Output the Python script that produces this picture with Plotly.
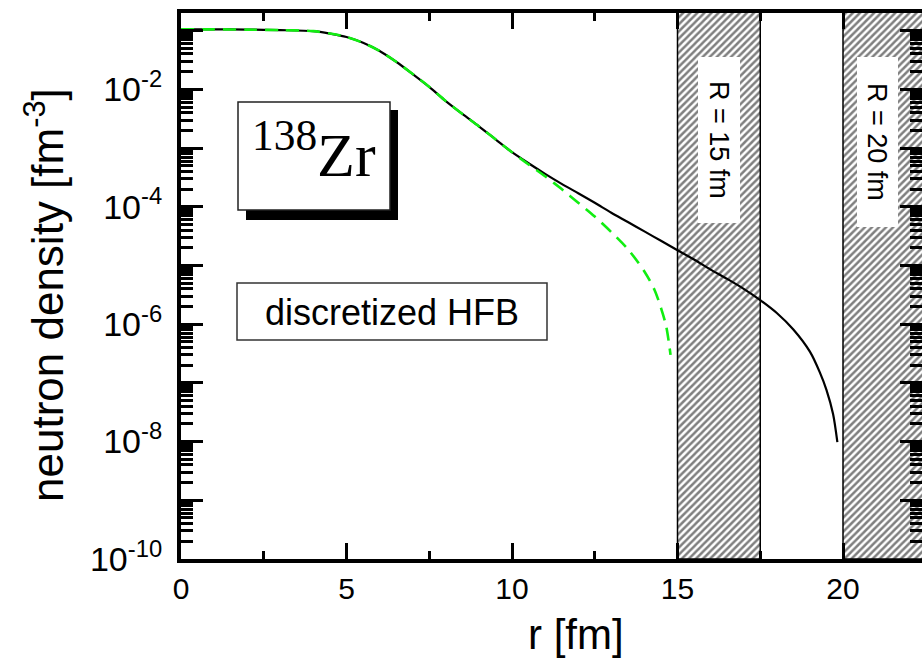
import plotly.graph_objects as go

# ---------------- data ----------------
r_hfb = [0, 1, 2, 3, 4, 4.5, 5, 5.5, 6, 6.5, 7, 7.5, 8, 8.5, 9, 9.5, 10,
         10.5, 11, 11.5, 12, 12.5, 13, 13.5, 14, 14.5, 15,
         15.5, 16, 16.5, 17, 17.5, 18, 18.5, 19, 19.3, 19.5, 19.7, 19.83]
rho_hfb = [1.05e-1, 1.05e-1, 1.04e-1, 1.02e-1, 9.8e-2, 8.9e-2, 7.8e-2, 6.2e-2,
           4.5e-2, 2.95e-2, 1.82e-2, 1.10e-2, 6.3e-3, 3.8e-3, 2.34e-3, 1.41e-3,
           8.5e-4, 5.5e-4, 3.63e-4, 2.45e-4, 1.70e-4, 1.17e-4, 7.9e-5, 5.5e-5,
           3.8e-5, 2.63e-5, 1.82e-5, 1.26e-5, 8.5e-6, 5.9e-6, 4.0e-6, 2.57e-6,
           1.55e-6, 8.1e-7, 3.4e-7, 1.51e-7, 7.6e-8, 2.95e-8, 9.8e-9]

r_box = [0, 1, 2, 3, 4, 4.5, 5, 5.5, 6, 6.5, 7, 7.5, 8, 8.5, 9, 9.5, 10,
         10.5, 11, 11.5, 12, 12.5, 13, 13.5, 14, 14.3, 14.5, 14.66, 14.79]
rho_box = [1.05e-1, 1.05e-1, 1.04e-1, 1.02e-1, 9.8e-2, 8.9e-2, 7.8e-2, 6.2e-2,
           4.5e-2, 2.95e-2, 1.82e-2, 1.10e-2, 6.3e-3, 3.8e-3, 2.34e-3, 1.41e-3,
           8.5e-4, 5.25e-4, 3.31e-4, 2.0e-4, 1.17e-4, 6.8e-5, 3.7e-5, 1.9e-5,
           7.9e-6, 3.9e-6, 1.9e-6, 9.1e-7, 3.0e-7]

box_radii = [15, 20]          # box radii R [fm]
wall_width = [2.5, 3.0]       # width of hatched region drawn
box_labels = ["R = 15 fm", "R = 20 fm"]

y_exponents = [-10, -9, -8, -7, -6, -5, -4, -3, -2, -1]
x_ticks = [0, 5, 10, 15, 20]

# ---------------- geometry helpers (layout only) ----------------
W, H = 922, 662
L, R_, T, B = 181, 0, 13, 103
PW, PH = W - L - R_, H - T - B


def px(xp):
    return (xp - L) / PW


def py(yp):
    return (H - B - yp) / PH


FONT = "Liberation Sans, Arial, sans-serif"
Y_TOP = -0.7
X_MAX = PW / 33.1

fig = go.Figure()

# hatched regions
for R, w in zip(box_radii, wall_width):
    fig.add_trace(go.Scatter(
        x=[R, R + w, R + w, R, R],
        y=[1e-10, 1e-10, 1.0, 1.0, 1e-10],
        mode="lines", fill="toself",
        fillcolor="white",
        fillpattern=dict(shape="/", size=5, solidity=0.5,
                         fgcolor="black", bgcolor="white"),
        line=dict(color="black", width=1.5),
        hoverinfo="skip", showlegend=False))

fig.add_trace(go.Scatter(x=r_hfb, y=rho_hfb, mode="lines",
                         line=dict(color="black", width=2.2, shape="spline",
                                   smoothing=0.8),
                         showlegend=False))
fig.add_trace(go.Scatter(x=r_box, y=rho_box, mode="lines",
                         line=dict(color="#11ee11", width=2.6, dash="13px,8px",
                                   shape="spline", smoothing=0.8),
                         showlegend=False))
# dummy trace to activate the right-hand tick axis
fig.add_trace(go.Scatter(x=[None], y=[None], yaxis="y2", showlegend=False,
                         hoverinfo="skip"))

maj_vals = [10.0 ** e for e in y_exponents]
maj_text = [("10<sup>%d</sup>" % e) if e % 2 == 0 else "" for e in y_exponents]
minor_vals = [k * 10.0 ** e for e in y_exponents for k in range(2, 10)
              if k * 10.0 ** e < 10 ** Y_TOP]

yax_common = dict(type="log", range=[-10, Y_TOP], tickmode="array",
                  tickvals=maj_vals, ticks="inside", ticklen=22, tickwidth=3,
                  tickcolor="black", showgrid=False, zeroline=False,
                  minor=dict(tickmode="array", tickvals=minor_vals,
                             ticks="inside", ticklen=12, tickwidth=3,
                             tickcolor="black"))

fig.update_layout(
    width=W, height=H,
    margin=dict(l=L, r=R_, t=T, b=B),
    paper_bgcolor="white", plot_bgcolor="white",
    font=dict(family=FONT, color="black"),
    xaxis=dict(range=[0, X_MAX], tickmode="array", tickvals=x_ticks,
               ticks="inside", ticklen=16, tickwidth=3, tickcolor="black",
               showline=True, linewidth=4, linecolor="black", mirror="ticks",
               showgrid=False, zeroline=False,
               tickfont=dict(size=30, family=FONT),
               minor=dict(dtick=2.5, tick0=0, ticks="inside", ticklen=8,
                          tickwidth=3, tickcolor="black")),
    yaxis=dict(**yax_common, ticktext=maj_text, showline=True, linewidth=4,
               linecolor="black", tickfont=dict(size=34, family=FONT),
               ticklabelstandoff=8),
    yaxis2=dict(**yax_common, overlaying="y", side="right",
                showticklabels=False, showline=False),
)

shapes = []
# Zr box shadow and box
shapes.append(dict(type="rect", xref="paper", yref="paper",
                   x0=px(246), x1=px(398), y0=py(220), y1=py(110),
                   fillcolor="black", line=dict(width=0), layer="above"))
shapes.append(dict(type="rect", xref="paper", yref="paper",
                   x0=px(238), x1=px(390), y0=py(210), y1=py(102),
                   fillcolor="white", line=dict(color="#222222", width=1.5),
                   layer="above"))
# discretized HFB box
shapes.append(dict(type="rect", xref="paper", yref="paper",
                   x0=px(237), x1=px(547), y0=py(340), y1=py(283),
                   fillcolor="white", line=dict(color="#333333", width=1.5),
                   layer="above"))
# white label backgrounds in hatched regions
for (x0, x1, y0, y1) in [(698, 740, 57, 223), (857, 898, 57, 227)]:
    shapes.append(dict(type="rect", xref="paper", yref="paper",
                       x0=px(x0), x1=px(x1), y0=py(y1), y1=py(y0),
                       fillcolor="white", line=dict(width=0), layer="above"))
fig.update_layout(shapes=shapes)

C = dict(xref="paper", yref="paper", showarrow=False,
         xanchor="center", yanchor="middle")
annotations = [
    dict(**C, x=px(314), y=py(150), text="<sup>138</sup>Zr",
         font=dict(family="Liberation Serif, Times New Roman, serif", size=62)),
    dict(**C, x=px(392), y=py(312), text="discretized HFB",
         font=dict(family=FONT, size=36)),
    dict(**C, x=px(719), y=py(140), text=box_labels[0], textangle=90,
         font=dict(family=FONT, size=27)),
    dict(**C, x=px(877), y=py(142), text=box_labels[1], textangle=90,
         font=dict(family=FONT, size=27)),
    dict(**C, x=px(576), y=py(634), text="r [fm]",
         font=dict(family=FONT, size=42)),
    dict(**C, x=px(45), y=py(295), text="neutron density [fm<sup>-3</sup>]",
         textangle=-90, font=dict(family=FONT, size=44)),
]
fig.update_layout(annotations=annotations)

fig.write_html("out.html")
